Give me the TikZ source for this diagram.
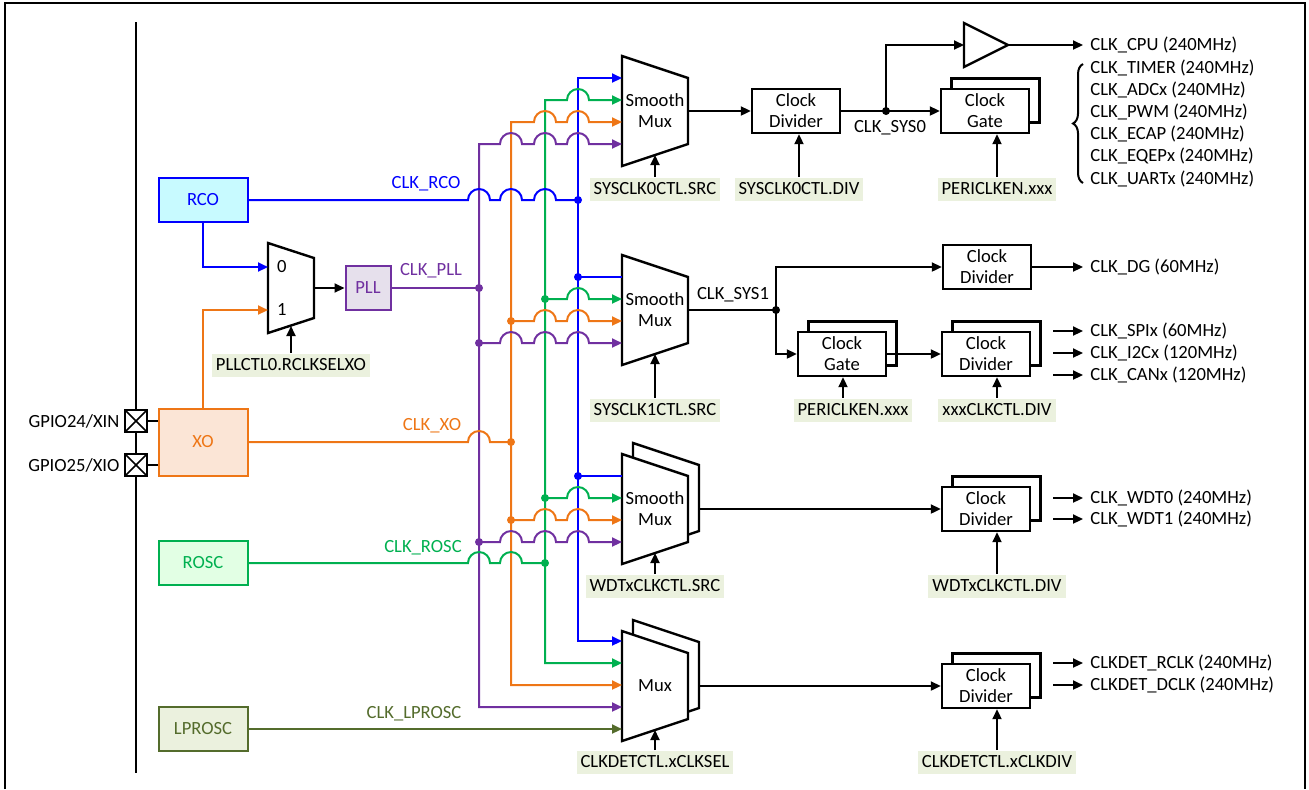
\documentclass[tikz,border=0pt]{standalone}
\usepackage{fontspec}
\setmainfont{Carlito}
\usepackage{tikz}
\usetikzlibrary{
  calc,
  positioning,
  arrows.meta,
  shadows,
  decorations.pathreplacing
}
\definecolor{clkblue}{RGB}{0,0,255}
\definecolor{clkorange}{RGB}{238,118,22}
\definecolor{clkgreen}{RGB}{0,176,80}
\definecolor{clkpurple}{RGB}{112,48,160}
\definecolor{clkolive}{RGB}{84,108,44}
\definecolor{regfill}{RGB}{235,241,222}
\definecolor{rcofill}{RGB}{200,250,255}
\definecolor{xofill}{RGB}{251,229,214}
\definecolor{roscfill}{RGB}{226,255,228}
\definecolor{lproscfill}{RGB}{235,241,222}
\definecolor{pllfill}{RGB}{230,224,236}

\newcommand{\muxbody}[1]{%
  \draw[line width=1.2pt, fill=white] (0,0) -- (66,22) -- (66,88) -- (0,110) -- cycle;
  \node[align=center] (-txt) at (33,55) {#1};
  \coordinate (-ctl) at (33,99);}
\newcommand{\muxback}{%
  \draw[line width=1.2pt, fill=white] (11,-11) -- (77,11) -- (77,77) -- (11,99) -- cycle;}

\begin{document}
\begin{tikzpicture}[>={Triangle[length=5pt,width=4.5pt]}, x=0.5pt, y=-0.5pt,
  font=\fontsize{9.3}{10.5}\selectfont]
  \tikzset{
    src/.style={draw, line width=1pt, minimum width=44.5pt, minimum height=22pt},
    blk/.style={draw, fill=white, line width=1.2pt, minimum width=44pt,
      minimum height=22pt, align=center, inner sep=1pt},
    stk/.style={blk, copy shadow={draw, fill=white, line width=1.2pt,
      shadow xshift=5.25pt, shadow yshift=5.25pt}},
    reg/.style={fill=regfill, inner xsep=2pt, inner ysep=1.5pt, minimum height=11.5pt},
    outlbl/.style={anchor=west, inner xsep=3.5pt, inner ysep=1pt},
    wire/.style={line width=1pt},
    pad/.style={draw, fill=white, line width=1.2pt, minimum size=11pt, inner sep=0pt,
      path picture={\draw[line width=0.8pt]
        (path picture bounding box.south west) -- (path picture bounding box.north east)
        (path picture bounding box.north west) -- (path picture bounding box.south east);}},
    hop/.style={insert path={-- ($(#1)+(-11,0)$) arc[start angle=180, end angle=0, radius=5.5pt]}},
    smux/.pic={\muxbody{#1}
      \coordinate (-out) at (66,55);
      \foreach \k in {1,...,4} \coordinate (-i\k) at (0,22*\k);},
    smuxs/.pic={\muxback \muxbody{#1}
      \coordinate (-out) at (77,55);
      \foreach \k in {1,...,4} \coordinate (-i\k) at (0,22*\k);},
    dmux/.pic={\muxback \muxbody{#1}
      \coordinate (-out) at (77,55);
      \foreach \k in {1,...,5} \coordinate (-i\k) at (0,22*\k-12);}
  }
\useasboundingbox (0,0) rectangle (1309,789);
\draw[line width=1pt] (5,789) -- (5,3) -- (1305,3) -- (1305,789);
\draw[line width=1pt] (136,22) -- (136,773);

% clock sources
\node[src, draw=clkblue, fill=rcofill, text=clkblue] (rco) at (203,200) {RCO};
\node[src, draw=clkorange, fill=xofill, text=clkorange, minimum height=33.5pt] (xo) at (203,442) {XO};
\node[src, draw=clkgreen, fill=roscfill, text=clkgreen] (rosc) at (203,563) {ROSC};
\node[src, draw=clkolive, fill=lproscfill, text=clkolive] (lprosc) at (203,729) {LPROSC};
\node[src, draw=clkpurple, fill=pllfill, text=clkpurple, minimum width=22.5pt] (pll) at (368,288) {PLL};

\node[pad] (xin) at (136,421) {};
\node[pad] (xio) at (136,465) {};
\node[anchor=east, inner sep=2pt] (xinlbl) at (xin.west) {GPIO24/XIN};
\node[anchor=east, inner sep=2pt] (xiolbl) at (xio.west) {GPIO25/XIO};
\draw[line width=1.2pt] (xin) -- (xin -| xo.west);
\draw[line width=1.2pt] (xio) -- (xio -| xo.west);

% pll select
\coordinate (pm0) at (268,267);
\coordinate (pm1) at (268,310);
\coordinate (pmout) at (314,288);
\coordinate (pmctl) at (291,326);
\draw[line width=1.2pt, fill=white] (268,243) -- (314,258) -- (314,318) -- (268,333) -- cycle;
\node[right=1pt of pm0] (sel0) {0};
\node[right=1pt of pm1] (sel1) {1};
\node[reg] (pllsel) at (291,365) {PLLCTL0.RCLKSELXO};
\draw[wire, clkblue, ->] (rco) |- (pm0);
\draw[wire, clkorange, ->] (xo) |- (pm1);
\draw[wire, ->] (pmout) -- (pll);
\draw[wire, ->] (pllsel) -- (pmctl);

% muxes
\pic (m0) at (622,56) {smux={Smooth\\Mux}};
\pic (m1) at (622,255) {smux={Smooth\\Mux}};
\pic (m2) at (622,454) {smuxs={Smooth\\Mux}};
\pic (m3) at (622,631) {dmux={Mux}};

\coordinate (pb) at (479,0);
\coordinate (ob) at (511,0);
\coordinate (gb) at (545,0);
\coordinate (bb) at (578,0);

\draw[wire, clkblue, <->] (m3-i1) -- (m3-i1 -| bb) -- (m0-i1 -| bb) -- (m0-i1);
\draw[wire, clkgreen, <->] (m3-i2) -- (m3-i2 -| gb) -- (m0-i2 -| gb) [hop=bb |- m0-i2] -- (m0-i2);
\draw[wire, clkorange, <->] (m3-i3) -- (m3-i3 -| ob) -- (m0-i3 -| ob)
  [hop=gb |- m0-i3] [hop=bb |- m0-i3] -- (m0-i3);
\draw[wire, clkpurple, <->] (m3-i4) -- (m3-i4 -| pb) -- (m0-i4 -| pb)
  [hop=ob |- m0-i4] [hop=gb |- m0-i4] [hop=bb |- m0-i4] -- (m0-i4);
\draw[wire, clkolive, ->] (lprosc) -- (m3-i5);

\draw[wire, clkblue] (rco) [hop=pb |- rco] [hop=ob |- rco] [hop=gb |- rco] -- (bb |- rco);
\draw[wire, clkpurple] (pll) -- (pb |- pll);
\draw[wire, clkorange] (xo) [hop=pb |- xo] -- (ob |- xo);
\draw[wire, clkgreen] (rosc) [hop=pb |- rosc] [hop=ob |- rosc] -- (gb |- rosc);
\fill[clkblue] (bb |- rco) circle (2pt);
\fill[clkpurple] (pb |- pll) circle (2pt);
\fill[clkorange] (ob |- xo) circle (2pt);
\fill[clkgreen] (gb |- rosc) circle (2pt);

\foreach \m in {m1,m2} {
  \draw[wire, clkblue] (bb |- \m-i1) -- (\m-i1);
  \draw[wire, clkgreen, ->] (gb |- \m-i2) [hop=bb |- \m-i2] -- (\m-i2);
  \draw[wire, clkorange, ->] (ob |- \m-i3) [hop=gb |- \m-i3] [hop=bb |- \m-i3] -- (\m-i3);
  \draw[wire, clkpurple, ->] (pb |- \m-i4) [hop=ob |- \m-i4] [hop=gb |- \m-i4]
    [hop=bb |- \m-i4] -- (\m-i4);
  \fill[clkblue] (bb |- \m-i1) circle (2pt);
  \fill[clkgreen] (gb |- \m-i2) circle (2pt);
  \fill[clkorange] (ob |- \m-i3) circle (2pt);
  \fill[clkpurple] (pb |- \m-i4) circle (2pt);
}

\node[text=clkblue] (lrco) at (426,184) {CLK\_RCO};
\node[text=clkpurple] (lpll) at (431,271) {CLK\_PLL};
\node[text=clkorange] (lxo) at (432,426) {CLK\_XO};
\node[text=clkgreen] (lrosc) at (423,548) {CLK\_ROSC};
\node[text=clkolive] (llprosc) at (414,714) {CLK\_LPROSC};

\node[reg] (src0) at (655,189) {SYSCLK0CTL.SRC};
\node[reg] (src1) at (655,410) {SYSCLK1CTL.SRC};
\node[reg] (src2) at (655,586) {WDTxCLKCTL.SRC};
\node[reg] (src3) at (655,762) {CLKDETCTL.xCLKSEL};
\draw[wire, ->] (src0) -- (m0-ctl);
\draw[wire, ->] (src1) -- (m1-ctl);
\draw[wire, ->] (src2) -- (m2-ctl);
\draw[wire, ->] (src3) -- (m3-ctl);

% sys0 branch
\node[blk] (div0) at (796,111) {Clock\\Divider};
\node[stk] (gate0) at (985,111) {Clock\\Gate};
\coordinate (sys0) at (886,111);
\coordinate (bufin) at (964,45);
\coordinate (bufout) at (1008,45);
\draw[line width=1.2pt] (964,23) -- (bufout) -- (964,67) -- cycle;
\draw[wire, ->] (m0-out) -- (div0);
\draw[wire, ->] (div0) -- (gate0);
\draw[wire, ->] (sys0) |- (bufin);
\fill (sys0) circle (2pt);
\node (lsys0) at (890,128) {CLK\_SYS0};
\node[reg] (div0reg) at (799,189) {SYSCLK0CTL.DIV};
\node[reg] (gate0reg) at (997,189) {PERICLKEN.xxx};
\draw[wire, ->] (div0reg) -- (div0reg |- div0.south);
\draw[wire, ->] (gate0reg) -- (gate0reg |- gate0.south);
\node[outlbl] (cpu) at (1083,45) {CLK\_CPU (240MHz)};
\draw[wire, ->] (bufout) -- (cpu);
\node[outlbl] (timer) at (1083,68) {CLK\_TIMER (240MHz)};
\node[outlbl] (adc) at (1083,90) {CLK\_ADCx (240MHz)};
\node[outlbl] (pwm) at (1083,112) {CLK\_PWM (240MHz)};
\node[outlbl] (ecap) at (1083,134) {CLK\_ECAP (240MHz)};
\node[outlbl] (eqep) at (1083,156) {CLK\_EQEPx (240MHz)};
\node[outlbl] (uart) at (1083,179) {CLK\_UARTx (240MHz)};
\draw[line width=1pt, decorate, decoration={brace, amplitude=5pt}]
  (uart.west) ++(0,4) -- ([yshift=2pt]timer.west);

% sys1 branch
\coordinate (sys1) at (m1-out -| 776,0);
\node[blk] (divdg) at (987,267) {Clock\\Divider};
\node[stk] (gate1) at (842,354) {Clock\\Gate};
\node[stk] (div1) at (986,354) {Clock\\Divider};
\draw[wire] (m1-out) -- (sys1);
\draw[wire, ->] (sys1) |- (divdg);
\draw[wire, ->] (sys1) |- (gate1);
\draw[wire, ->] (gate1) -- (div1);
\fill (sys1) circle (2pt);
\node (lsys1) at (733,295) {CLK\_SYS1};
\node[reg] (gate1reg) at (853,410) {PERICLKEN.xxx};
\node[reg] (div1reg) at (997,410) {xxxCLKCTL.DIV};
\draw[wire, ->] ([xshift=-5pt]gate1reg.north) -- ([xshift=-5pt]gate1reg.north |- gate1.south);
\draw[wire, ->] (div1reg) -- (div1reg |- div1.south);
\node[outlbl] (dg) at (1083,267) {CLK\_DG (60MHz)};
\draw[wire, ->] (divdg) -- (dg);
\node[outlbl] (spi) at (1083,331) {CLK\_SPIx (60MHz)};
\node[outlbl] (i2c) at (1083,353) {CLK\_I2Cx (120MHz)};
\node[outlbl] (can) at (1083,375) {CLK\_CANx (120MHz)};
\draw[wire, ->] ([xshift=-15pt]spi.west) -- (spi);
\draw[wire, ->] ([xshift=-15pt]i2c.west) -- (i2c);
\draw[wire, ->] ([xshift=-15pt]can.west) -- (can);

% watchdog branch
\node[stk] (div2) at (986,509) {Clock\\Divider};
\draw[wire, ->] (m2-out) -- (div2);
\node[reg] (div2reg) at (997,586) {WDTxCLKCTL.DIV};
\draw[wire, ->] (div2reg) -- (div2reg |- div2.south);
\node[outlbl] (wdt0) at (1083,498) {CLK\_WDT0 (240MHz)};
\node[outlbl] (wdt1) at (1083,519) {CLK\_WDT1 (240MHz)};
\draw[wire, ->] ([xshift=-15pt]wdt0.west) -- (wdt0);
\draw[wire, ->] ([xshift=-15pt]wdt1.west) -- (wdt1);

% clock detect branch
\node[stk] (div3) at (986,686) {Clock\\Divider};
\draw[wire, ->] (m3-out) -- (div3);
\node[reg] (div3reg) at (997,762) {CLKDETCTL.xCLKDIV};
\draw[wire, ->] (div3reg) -- (div3reg |- div3.south);
\node[outlbl] (rclk) at (1083,663) {CLKDET\_RCLK (240MHz)};
\node[outlbl] (dclk) at (1083,685) {CLKDET\_DCLK (240MHz)};
\draw[wire, ->] ([xshift=-15pt]rclk.west) -- (rclk);
\draw[wire, ->] ([xshift=-15pt]dclk.west) -- (dclk);
\end{tikzpicture}
\end{document}
